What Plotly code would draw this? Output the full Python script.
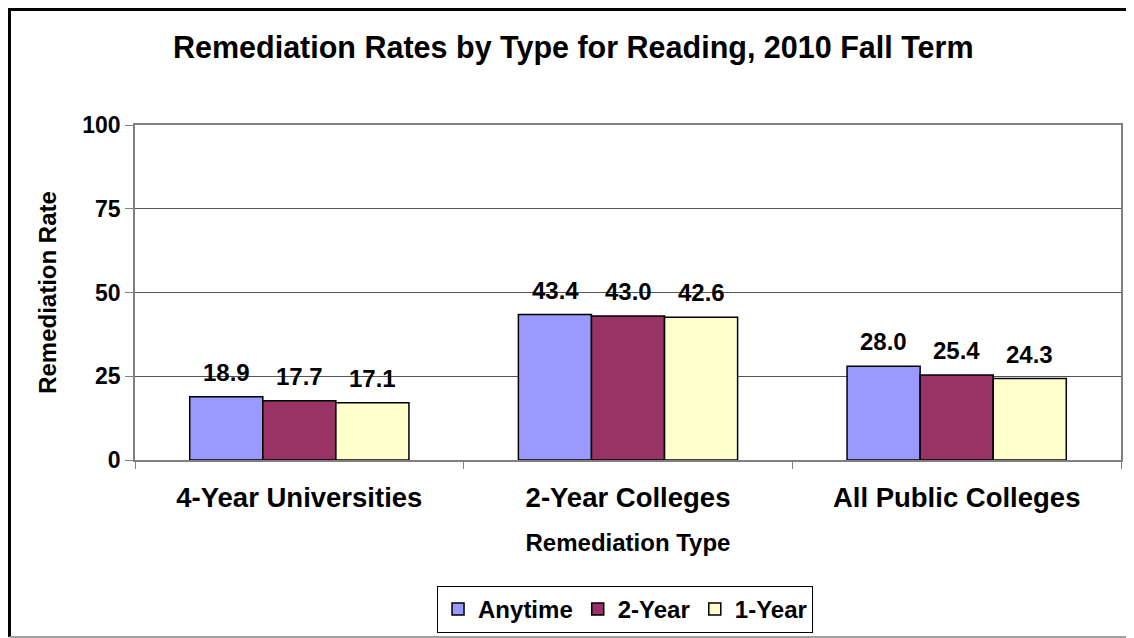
import plotly.graph_objects as go

# Dados
categorias = ["4-Year Universities", "2-Year Colleges", "All Public Colleges"]
anytime = [18.9, 43.4, 28.0]
dois_anos = [17.7, 43.0, 25.4]
um_ano = [17.1, 42.6, 24.3]
series_nomes = ["Anytime", "2-Year", "1-Year"]
cores = ["#9999FF", "#993366", "#FFFFCC"]

FONTE = "Arial, Liberation Sans, sans-serif"

fig = go.Figure()
for nome, valores, cor in zip(series_nomes, [anytime, dois_anos, um_ano], cores):
    fig.add_trace(go.Bar(
        x=categorias, y=valores, name=nome,
        marker=dict(color=cor, line=dict(color="#000000", width=1.5)),
    ))

# Rótulos de valor acima das barras (deslocados por grupo)
largura_barra = 73
for i, valores in enumerate([anytime, dois_anos, um_ano]):
    for cat, v in zip(categorias, valores):
        fig.add_annotation(
            x=cat, y=v, text=f"{v:.1f}",
            xref="x", yref="y",
            xshift=(i - 1) * largura_barra, yshift=9,
            yanchor="bottom", showarrow=False,
            font=dict(size=24, color="#000000", family=FONTE, weight="bold"),
        )

# Moldura externa da figura (esquerda/topo preto, base cinza)
fig.add_shape(type="path", xref="paper", yref="paper",
              path="M -0.1273,-0.5284 L -0.1273,1.3448 L 1.03,1.3448",
              line=dict(color="#000000", width=3))
fig.add_shape(type="line", xref="paper", yref="paper",
              x0=-0.1273, x1=1.03, y0=-0.5284, y1=-0.5284,
              line=dict(color="#a0a0a0", width=2))

fig.update_layout(
    width=1126, height=630,
    margin=dict(l=127, r=13, t=117, b=178, autoexpand=False),
    paper_bgcolor="white", plot_bgcolor="white",
    font=dict(family=FONTE, color="#000000"),
    title=dict(
        text="Remediation Rates by Type for Reading, 2010 Fall Term",
        x=0.502, xanchor="center", y=0.938, yanchor="middle",
        font=dict(size=30.5, family=FONTE, color="#000000", weight="bold"),
    ),
    barmode="group", bargap=0.333, bargroupgap=0,
    showlegend=True,
    legend=dict(
        orientation="h", x=0.497, xanchor="center", y=-0.376, yanchor="top",
        bordercolor="#000000", borderwidth=1,
        font=dict(size=24, family=FONTE, color="#000000", weight="bold"),
        itemwidth=30, tracegroupgap=0,
    ),
    xaxis=dict(
        title=dict(text="Remediation Type",
                   font=dict(size=24, weight="bold"), standoff=22),
        tickfont=dict(size=27.5, color="#000000", weight="bold"),
        ticklabelstandoff=12,
        showline=True, linecolor="#808080", linewidth=1.5, mirror=True,
        ticks="outside", tickson="boundaries", ticklen=7, tickcolor="#808080",
        automargin=False,
    ),
    yaxis=dict(
        title=dict(text="Remediation Rate",
                   font=dict(size=24, weight="bold"), standoff=19),
        range=[0, 100], tickvals=[0, 25, 50, 75, 100],
        tickfont=dict(size=23, color="#000000", weight="bold"),
        showgrid=True, gridcolor="#555555", gridwidth=1,
        showline=True, linecolor="#808080", linewidth=1.5, mirror=True,
        ticks="outside", ticklen=8, tickcolor="#808080",
        zeroline=False, automargin=False,
    ),
)

fig.write_html("out.html")
